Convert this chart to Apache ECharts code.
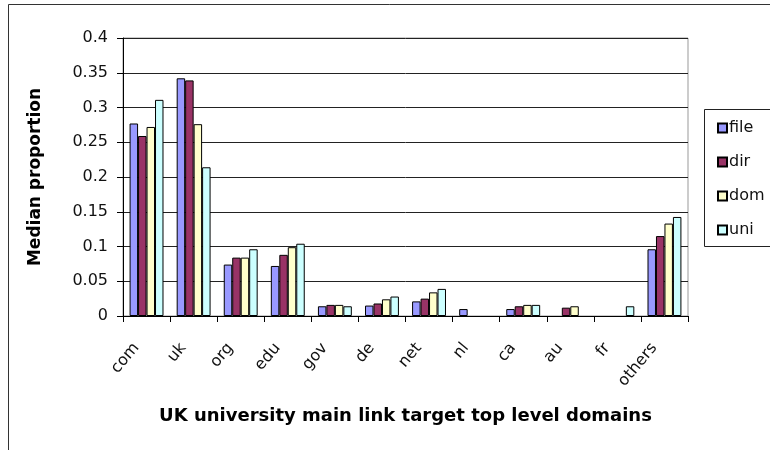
<!DOCTYPE html>
<html>
<head>
<meta charset="utf-8">
<script src="https://cdn.jsdelivr.net/npm/echarts@6/dist/echarts.min.js"></script>
<style>
  html, body { margin: 0; padding: 0; background: #fff; }
  #chart { width: 770px; height: 450px; }
</style>
</head>
<body>
<div id="chart"></div>
<script>
// Top level domains linked from UK university pages
const categories = ['com', 'uk', 'org', 'edu', 'gov', 'de', 'net', 'nl', 'ca', 'au', 'fr', 'others'];
const fileVals = [0.277, 0.342, 0.074, 0.072, 0.014, 0.015, 0.021, 0.010, 0.010, 0, 0, 0.096];
const dirVals  = [0.259, 0.339, 0.084, 0.088, 0.016, 0.018, 0.025, 0, 0.014, 0.012, 0, 0.115];
const domVals  = [0.272, 0.276, 0.084, 0.099, 0.016, 0.024, 0.034, 0, 0.016, 0.014, 0, 0.133];
const uniVals  = [0.311, 0.214, 0.096, 0.104, 0.014, 0.028, 0.039, 0, 0.016, 0, 0.014, 0.1425];
const seriesNames = ['file', 'dir', 'dom', 'uni'];
const seriesColors = ['#9999FF', '#993366', '#FFFFCC', '#CCFFFF'];
const yTicks = { min: 0, max: 0.4, interval: 0.05 };

const font = '"DejaVu Sans", sans-serif';

const chart = echarts.init(document.getElementById('chart'), null, { renderer: 'canvas' });

const seriesData = [fileVals, dirVals, domVals, uniVals];

// zero-height bars leave no outline on the baseline
const toBarData = (vals) => vals.map(v => v === 0
  ? { value: v, itemStyle: { borderWidth: 0 } }
  : v);

chart.setOption({
  animation: false,
  backgroundColor: '#fff',
  textStyle: { fontFamily: font },
  graphic: [
    {
      type: 'rect',
      shape: { x: 8.5, y: 4.5, width: 800, height: 500 },
      style: { fill: 'none', stroke: '#333', lineWidth: 1 },
      silent: true, z: -1
    },
    {
      type: 'rect',
      shape: { x: 704.5, y: 109.5, width: 100, height: 137 },
      style: { fill: '#fff', stroke: '#222', lineWidth: 1 },
      silent: true, z: 0
    }
  ],
  grid: { left: 123, right: 82, top: 38, bottom: 134, containLabel: false,
          show: true, borderColor: '#999', borderWidth: 1 },
  legend: {
    orient: 'vertical',
    left: 712, top: 115,
    itemWidth: 9, itemHeight: 9,
    itemGap: 18,
    textStyle: { fontSize: 16, color: '#111', fontFamily: font, padding: [0, 0, 0, -3] },
    icon: 'rect',
    data: seriesNames,
    z: 5
  },
  xAxis: {
    type: 'category',
    data: categories,
    boundaryGap: true,
    axisLine: { lineStyle: { color: '#000', width: 1 } },
    axisTick: { show: true, alignWithLabel: false, length: 6, lineStyle: { color: '#000' } },
    axisLabel: { rotate: 50, fontSize: 16, color: '#111', margin: 17, interval: 0,
                 fontFamily: font, padding: [0, 16, 0, 0] },
    name: 'UK university main link target top level domains',
    nameLocation: 'middle',
    nameGap: 91,
    nameTextStyle: { fontSize: 18, fontWeight: 'bold', color: '#000', fontFamily: font }
  },
  yAxis: {
    type: 'value',
    min: yTicks.min, max: yTicks.max, interval: yTicks.interval,
    axisLine: { show: true, lineStyle: { color: '#000', width: 1 } },
    axisTick: { show: true, length: 6, lineStyle: { color: '#000' } },
    axisLabel: { fontSize: 16, color: '#111', margin: 15, fontFamily: font },
    splitLine: { show: true, lineStyle: { color: '#222', width: 1 } },
    name: 'Median proportion',
    nameLocation: 'middle',
    nameGap: 79,
    nameTextStyle: { fontSize: 17, fontWeight: 'bold', color: '#000', fontFamily: font }
  },
  series: seriesNames.map((name, i) => ({
    name,
    type: 'bar',
    data: toBarData(seriesData[i]),
    barGap: '0%',
    barCategoryGap: '28%',
    itemStyle: { color: seriesColors[i], borderColor: '#000', borderWidth: 1 },
    emphasis: { disabled: true }
  }))
});
</script>
</body>
</html>
